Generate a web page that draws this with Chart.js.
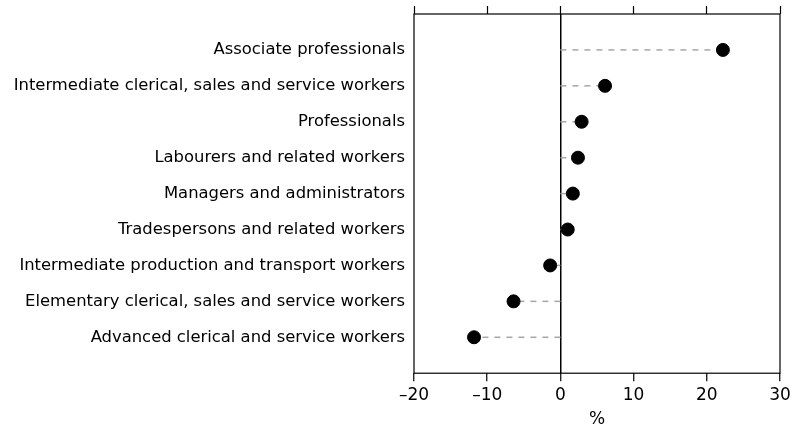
<!DOCTYPE html>
<html>
<head>
<meta charset="utf-8">
<script src="https://cdn.jsdelivr.net/npm/chart.js@4"></script>
<style>
  html, body { margin: 0; padding: 0; background: #fff; }
  #wrap { width: 798px; height: 432px; }
</style>
</head>
<body>
<div id="wrap"><canvas id="chart" width="798" height="432"></canvas></div>
<script>
// Occupation groups, top to bottom
const categories = [
    "Associate professionals",
    "Intermediate clerical, sales and service workers",
    "Professionals",
    "Labourers and related workers",
    "Managers and administrators",
    "Tradespersons and related workers",
    "Intermediate production and transport workers",
    "Elementary clerical, sales and service workers",
    "Advanced clerical and service workers"
];
// Change (%)
const changes = [22.2, 6.1, 2.9, 2.4, 1.7, 1.0, -1.4, -6.4, -11.8];
const xTicks = [-20, -10, 0, 10, 20, 30];

const FONT = "'DejaVu Sans', sans-serif";

// dashed stems from zero to each point, plus the frame
const stems = {
    id: "stems",
    beforeDatasetsDraw(chart) {
        const { ctx, scales: { x, y } } = chart;
        ctx.save();
        ctx.strokeStyle = "#a6a6a6";
        ctx.lineWidth = 1.5;
        ctx.setLineDash([6, 6]);
        changes.forEach((v, i) => {
            const py = y.getPixelForValue(i);
            ctx.beginPath();
            ctx.moveTo(x.getPixelForValue(0), py);
            ctx.lineTo(x.getPixelForValue(v), py);
            ctx.stroke();
        });
        ctx.restore();
    },
    afterDraw(chart) {
        const { ctx, chartArea: a } = chart;
        ctx.save();
        ctx.strokeStyle = "#000";
        ctx.lineWidth = 1.2;
        ctx.strokeRect(a.left, a.top, a.right - a.left, a.bottom - a.top);
        ctx.restore();
    }
};

new Chart(document.getElementById("chart"), {
    type: "scatter",
    data: {
        datasets: [{
            data: changes.map((v, i) => ({ x: v, y: i })),
            backgroundColor: "#000",
            borderColor: "#000",
            pointRadius: 6.5,
            pointHoverRadius: 6.5
        }]
    },
    options: {
        responsive: false,
        animation: false,
        layout: { padding: { top: 6, right: 18, bottom: 2, left: 0 } },
        plugins: { legend: { display: false }, tooltip: { enabled: false } },
        scales: {
            x: {
                min: -20, max: 30,
                afterBuildTicks: (s) => { s.ticks = xTicks.map(v => ({ value: v })); },
                ticks: {
                    color: "#000",
                    font: { family: FONT, size: 17 },
                    padding: 4,
                    callback: (v) => v < 0 ? "\u2013" + Math.abs(v) : String(v)
                },
                grid: {
                    color: (c) => c.tick && c.tick.value === 0 ? "#000" : "rgba(0,0,0,0)",
                    lineWidth: 1.5,
                    tickColor: "#000",
                    tickLength: 8,
                    tickWidth: 1.2
                },
                border: { display: false },
                title: {
                    display: true,
                    text: "%",
                    color: "#000",
                    font: { family: FONT, size: 17 },
                    padding: { top: 0, bottom: 0 }
                }
            },
            x2: {
                position: "top",
                min: -20, max: 30,
                afterBuildTicks: (s) => { s.ticks = xTicks.map(v => ({ value: v })); },
                ticks: { display: false },
                grid: {
                    drawOnChartArea: false,
                    tickColor: "#000",
                    tickLength: 8,
                    tickWidth: 1.2
                },
                border: { display: false }
            },
            y: {
                type: "linear",
                reverse: true,
                min: -1, max: 9,
                afterBuildTicks: (s) => { s.ticks = categories.map((c, i) => ({ value: i })); },
                afterFit: (s) => {
                    s.width = 414;
                    s.paddingTop = 0;
                    s.paddingBottom = 0;
                },
                ticks: {
                    color: "#000",
                    font: { family: FONT, size: 16.4 },
                    padding: 9,
                    callback: (v) => categories[v] ?? ""
                },
                grid: { display: false, drawTicks: false },
                border: { display: false }
            }
        }
    },
    plugins: [stems]
});
</script>
</body>
</html>
